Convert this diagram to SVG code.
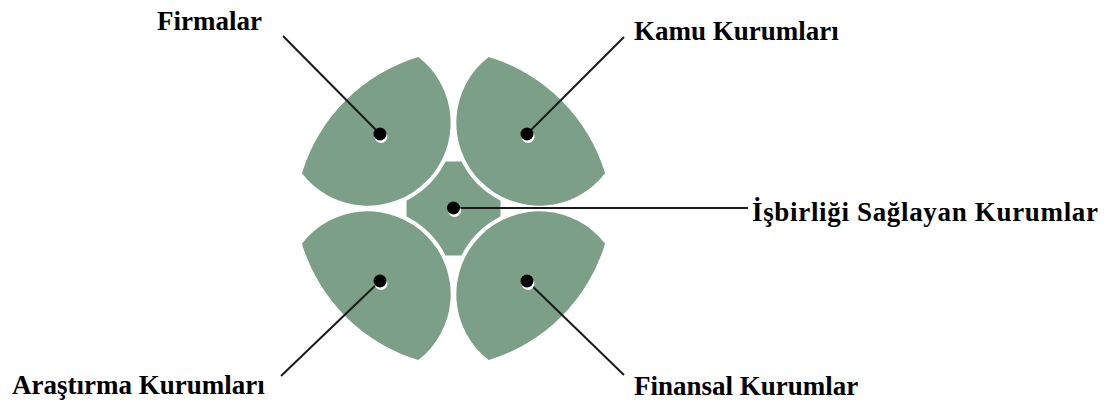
<svg xmlns="http://www.w3.org/2000/svg" width="1108" height="406" viewBox="0 0 1108 406">
<defs>
<path id="p-tl" d="M301.9,173.3 A175,175 0 0,1 418.3,56.9 A83,83 0 1,1 301.9,173.3 Z"/>
<path id="p-tr" d="M605.1,173.3 A175,175 0 0,0 488.7,56.9 A83,83 0 1,0 605.1,173.3 Z"/>
<path id="p-bl" d="M301.9,243.7 A175,175 0 0,0 418.3,360.1 A83,83 0 1,0 301.9,243.7 Z"/>
<path id="p-br" d="M605.1,243.7 A175,175 0 0,1 488.7,360.1 A83,83 0 1,1 605.1,243.7 Z"/>
</defs>
<style>
.petal{fill:#7b9f87}
.halo{fill:#ffffff;stroke:#ffffff;stroke-width:8;stroke-linejoin:round}
.hub{fill:#7b9f87}
.lbl{font-family:"Liberation Serif","Times New Roman",serif;font-weight:bold;font-size:27px;fill:#000}
.lead{stroke:#1a1a1a;stroke-width:2;fill:none}
.dotw{fill:#ffffff}
.dot{fill:#000000}
</style>
<rect width="1108" height="406" fill="#ffffff"/>
<g id="hub-shape">
<rect class="hub" x="406.5" y="161.5" width="94" height="94"/>
</g>
<g id="gaps">
<use href="#p-tl" class="halo"/>
<use href="#p-tr" class="halo"/>
<use href="#p-bl" class="halo"/>
<use href="#p-br" class="halo"/>
</g>
<g id="node-firmalar">
<use href="#p-tl" class="petal"/>
</g>
<g id="node-kamu">
<use href="#p-tr" class="petal"/>
</g>
<g id="node-arastirma">
<use href="#p-bl" class="petal"/>
</g>
<g id="node-finansal">
<use href="#p-br" class="petal"/>
</g>
<g id="connectors">
<line class="lead" x1="283" y1="36" x2="380" y2="134"/>
<line class="lead" x1="624" y1="37" x2="527" y2="134"/>
<line class="lead" x1="453.5" y1="208" x2="748" y2="208"/>
<line class="lead" x1="281" y1="376" x2="380" y2="281"/>
<line class="lead" x1="624" y1="375" x2="527" y2="281"/>
<circle class="dotw" cx="381" cy="136.5" r="6.5"/>
<circle class="dot" cx="380" cy="134" r="6.5"/>
<circle class="dotw" cx="528" cy="136.5" r="6.5"/>
<circle class="dot" cx="527" cy="134" r="6.5"/>
<circle class="dotw" cx="454.5" cy="210.5" r="6.5"/>
<circle class="dot" cx="453.5" cy="208" r="6.5"/>
<circle class="dotw" cx="381" cy="283.5" r="6.5"/>
<circle class="dot" cx="380" cy="281" r="6.5"/>
<circle class="dotw" cx="528" cy="283.5" r="6.5"/>
<circle class="dot" cx="527" cy="281" r="6.5"/>
</g>
<g id="labels">
<text class="lbl" x="157" y="30">Firmalar</text>
<text class="lbl" x="634" y="40">Kamu Kurumları</text>
<text class="lbl" x="752" y="221" textLength="346" lengthAdjust="spacing">İşbirliği Sağlayan Kurumlar</text>
<text class="lbl" x="12" y="394">Araştırma Kurumları</text>
<text class="lbl" x="634" y="395">Finansal Kurumlar</text>
</g>
</svg>
